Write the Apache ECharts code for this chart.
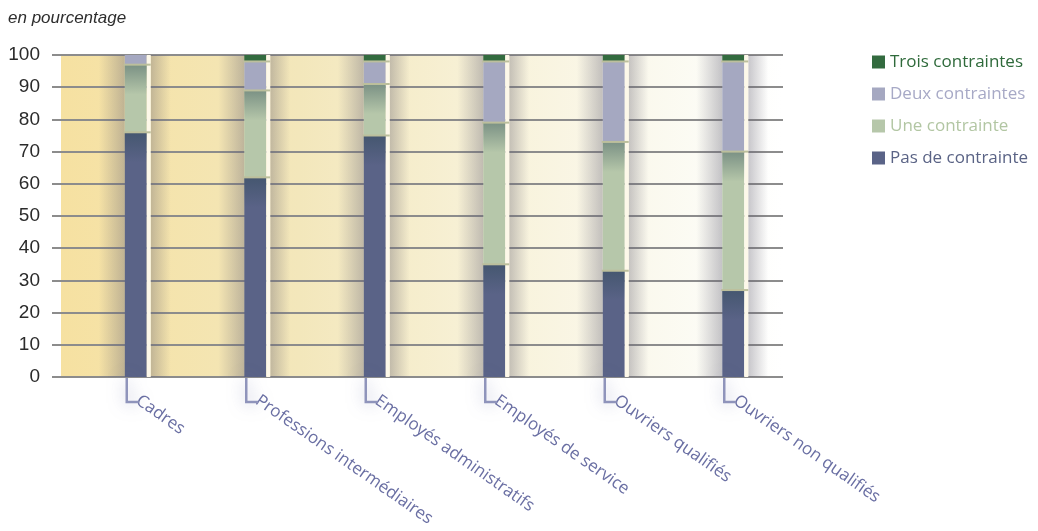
<!DOCTYPE html>
<html>
<head>
<meta charset="utf-8">
<script src="https://cdn.jsdelivr.net/npm/echarts@6/dist/echarts.min.js"></script>
<style>
  html, body { margin: 0; padding: 0; background: #ffffff; }
  #chart { width: 1038px; height: 531px; }
</style>
</head>
<body>
<div id="chart"></div>
<script>
// Catégories socioprofessionnelles
const categories = [
  'Cadres',
  'Professions intermédiaires',
  'Employés administratifs',
  'Employés de service',
  'Ouvriers qualifiés',
  'Ouvriers non qualifiés'
];

// Parts (en %) par nombre de contraintes
const pasDeContrainte  = [76, 62, 75, 35, 33, 27];
const uneContrainte    = [21, 27, 16, 44, 40, 43];
const deuxContraintes  = [3, 9, 7, 19, 25, 28];
const troisContraintes = [0, 2, 2, 2, 2, 2];

// Axe des valeurs
const yMin = 0;
const yMax = 100;
const yStep = 10;

const seriesNames = ['Pas de contrainte', 'Une contrainte', 'Deux contraintes', 'Trois contraintes'];
const seriesValues = [pasDeContrainte, uneContrainte, deuxContraintes, troisContraintes];
const seriesColors = ['#5a6387', '#b6c7aa', '#a5a8c1', '#336b3f'];
const legendText = {
  'Trois contraintes': '#2f6a3b',
  'Deux contraintes': '#a7a9c6',
  'Une contrainte': '#b2c6a3',
  'Pas de contrainte': '#5a6385'
};

// Totaux par catégorie (bande claire à droite de chaque barre)
const totals = categories.map((c, i) => seriesValues.reduce((s, arr) => s + arr[i], 0));

// Limites internes entre segments empilés : [catégorie, cumul, rang du segment inférieur]
const separators = [];
categories.forEach((c, i) => {
  let cum = 0;
  for (let k = 0; k < seriesValues.length - 1; k++) {
    cum += seriesValues[k][i];
    if (seriesValues[k + 1][i] > 0) separators.push([i, cum, k]);
  }
});

const BAR_W = 22;
const STRIPE_W = 4;
const HALF = (BAR_W + STRIPE_W) / 2;

function hGradient(a0, a1, rgb) {
  return {
    type: 'linear', x: 0, y: 0, x2: 1, y2: 0,
    colorStops: [
      { offset: 0, color: 'rgba(' + rgb + ',' + a0 + ')' },
      { offset: 1, color: 'rgba(' + rgb + ',' + a1 + ')' }
    ]
  };
}

const chart = echarts.init(document.getElementById('chart'), null, { renderer: 'canvas' });

const barSeries = seriesNames.map((name, k) => ({
  name: name,
  type: 'bar',
  stack: 'parts',
  xAxisIndex: 1,
  yAxisIndex: 1,
  barWidth: BAR_W,
  barGap: '0%',
  z: 2,
  itemStyle: { color: seriesColors[k] },
  emphasis: { disabled: true },
  data: seriesValues[k]
}));

const option = {
  animation: false,
  backgroundColor: '#ffffff',
  title: {
    text: 'en pourcentage',
    left: 3,
    top: 5,
    textStyle: {
      fontFamily: 'Liberation Sans',
      fontStyle: 'italic',
      fontWeight: 'normal',
      fontSize: 17,
      color: '#2e2e2e'
    }
  },
  legend: {
    orient: 'vertical',
    left: 872,
    top: 52,
    padding: 0,
    itemWidth: 13,
    itemHeight: 13,
    itemGap: 12,
    icon: 'rect',
    selectedMode: false,
    itemStyle: { shadowBlur: 0, shadowColor: 'transparent', borderWidth: 0 },
    textStyle: { fontFamily: 'Open Sans', fontSize: 17, lineHeight: 20 },
    data: ['Trois contraintes', 'Deux contraintes', 'Une contrainte', 'Pas de contrainte']
      .map(n => ({ name: n, textStyle: { color: legendText[n] } }))
  },
  grid: [
    {
      left: 61, right: 255, top: 55, bottom: 154,
      show: true,
      borderWidth: 0,
      backgroundColor: {
        type: 'linear', x: 0, y: 0, x2: 1, y2: 0,
        colorStops: [
          { offset: 0, color: '#f6e1a1' },
          { offset: 0.33, color: '#f3e7bb' },
          { offset: 0.55, color: '#f7f0d4' },
          { offset: 0.75, color: '#faf7e8' },
          { offset: 0.9, color: '#fcfcf6' },
          { offset: 1, color: '#ffffff' }
        ]
      }
    },
    { left: 78, right: 243, top: 55, bottom: 154 }
  ],
  xAxis: [
    { type: 'category', gridIndex: 0, data: categories, show: false },
    {
      type: 'category',
      gridIndex: 1,
      data: categories,
      axisLine: { show: false },
      axisTick: { show: false },
      axisLabel: {
        interval: 0,
        rotate: -35,
        margin: 22,
        color: '#6a6fa3',
        fontFamily: 'Open Sans',
        fontSize: 17
      }
    }
  ],
  yAxis: [
    {
      type: 'value',
      gridIndex: 0,
      min: yMin,
      max: yMax,
      interval: yStep,
      axisLine: { show: false },
      axisTick: { show: true, length: 9, lineStyle: { color: '#8c8c8c', width: 2 } },
      axisLabel: {
        margin: 21,
        color: '#2b2b2b',
        fontFamily: 'Liberation Sans',
        fontSize: 19
      },
      splitLine: { show: true, lineStyle: { color: '#8c8c8c', width: 2 } }
    },
    { type: 'value', gridIndex: 1, min: yMin, max: yMax, show: false }
  ],
  series: barSeries.concat([
    {
      // ombrage du fond de part et d'autre de chaque barre
      name: 'ombres',
      type: 'custom',
      xAxisIndex: 1,
      yAxisIndex: 1,
      z: 1,
      silent: true,
      data: categories.map((c, i) => [i, yMax]),
      renderItem: function (params, api) {
        const top = api.coord([api.value(0), yMax]);
        const bottom = api.coord([api.value(0), yMin]);
        const h = bottom[1] - top[1];
        const left = top[0] - HALF;
        const right = top[0] + HALF;
        return {
          type: 'group',
          children: [
            {
              type: 'rect',
              shape: { x: left - 26, y: top[1], width: 26, height: h },
              style: { fill: hGradient(0, 0.36, '95,92,110') }
            },
            {
              type: 'rect',
              shape: { x: right, y: top[1], width: 20, height: h },
              style: { fill: hGradient(0.34, 0, '95,92,110') }
            }
          ]
        };
      }
    },
    {
      name: 'bande',
      type: 'bar',
      xAxisIndex: 1,
      yAxisIndex: 1,
      barWidth: STRIPE_W,
      barGap: '0%',
      z: 3,
      itemStyle: { color: '#fdf8e9' },
      emphasis: { disabled: true },
      data: totals
    },
    {
      // filets entre segments et ombrage sous chaque filet
      name: 'limites',
      type: 'custom',
      xAxisIndex: 1,
      yAxisIndex: 1,
      z: 4,
      silent: true,
      data: separators,
      renderItem: function (params, api) {
        const p = api.coord([api.value(0), api.value(1)]);
        const k = api.value(2);
        const children = [];
        if (k < 2) {
          children.push({
            type: 'rect',
            shape: { x: p[0] - HALF, y: p[1], width: BAR_W, height: 30 },
            style: {
              fill: {
                type: 'linear', x: 0, y: 0, x2: 0, y2: 1,
                colorStops: [
                  { offset: 0, color: 'rgba(40,70,80,0.42)' },
                  { offset: 1, color: 'rgba(40,70,80,0)' }
                ]
              }
            }
          });
        }
        children.push({
          type: 'rect',
          shape: { x: p[0] - HALF - 1, y: p[1] - 1, width: BAR_W + STRIPE_W + 1, height: 2 },
          style: { fill: '#bcbf9c' }
        });
        return { type: 'group', children: children };
      }
    },
    {
      name: 'reperes',
      type: 'custom',
      xAxisIndex: 1,
      yAxisIndex: 1,
      z: 4,
      silent: true,
      clip: false,
      data: categories.map((c, i) => [i, yMin]),
      renderItem: function (params, api) {
        const p = api.coord([api.value(0), api.value(1)]);
        const x = p[0] - HALF + 2;
        return {
          type: 'polyline',
          shape: { points: [[x, p[1] + 1], [x, p[1] + 25], [x + 12, p[1] + 25]] },
          style: {
            stroke: '#8f94bb',
            lineWidth: 2.5,
            fill: null,
            shadowBlur: 16,
            shadowColor: 'rgba(110, 115, 170, 0.6)'
          }
        };
      }
    }
  ])
};

chart.setOption(option);
</script>
</body>
</html>
